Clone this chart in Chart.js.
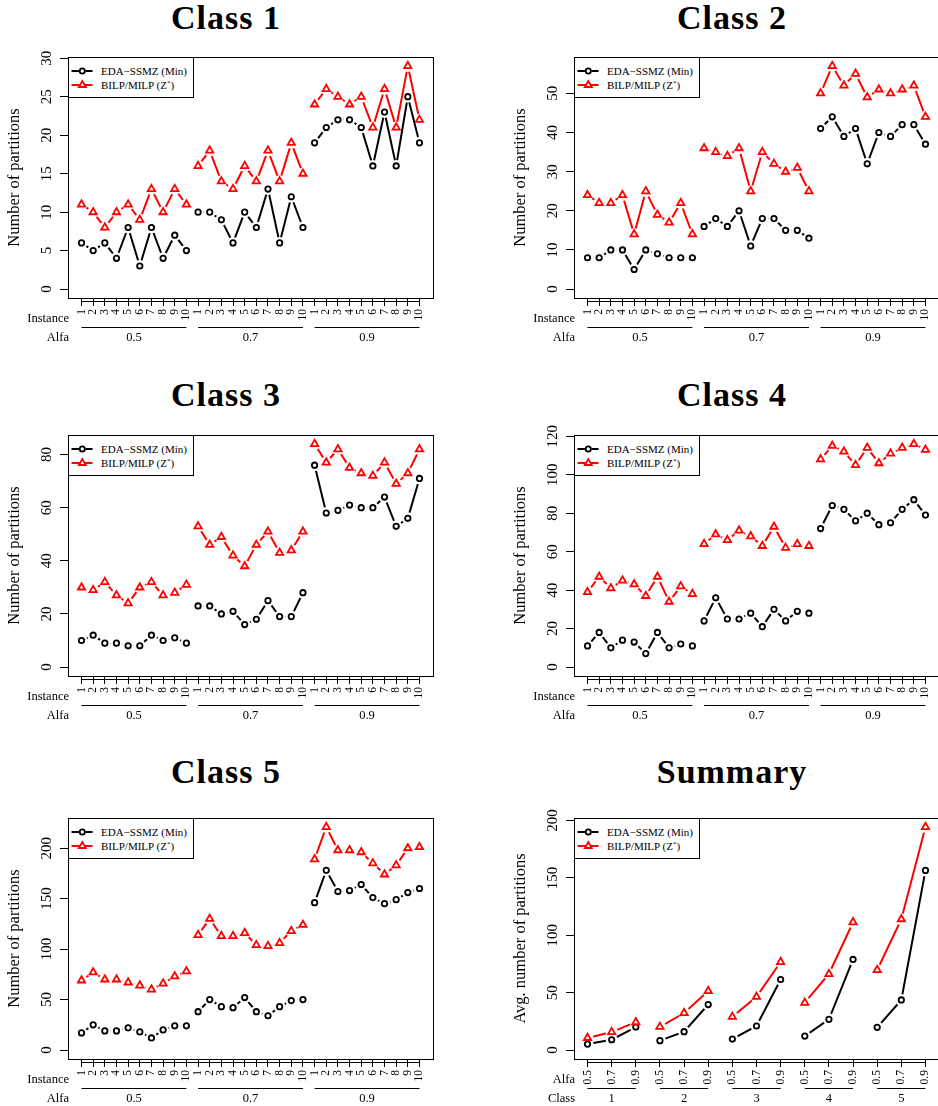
<!DOCTYPE html>
<html>
<head>
<meta charset="utf-8">
<script src="https://cdn.jsdelivr.net/npm/chart.js@4.4.1/dist/chart.umd.min.js"></script>
<style>
  html, body { margin: 0; padding: 0; background: #fff; }
  body { width: 938px; height: 1106px; position: relative; overflow: hidden;
         font-family: 'Liberation Serif', 'Times New Roman', serif; color: #000; }
  .panel { position: absolute; width: 469px; height: 360px; }
  .panel canvas { position: absolute; left: 0; top: 40px; }
  .title { position: absolute; left: 0; width: 452px; height: 40px; line-height: 40px;
           text-align: center; font-size: 34px; font-weight: bold; letter-spacing: 1px; }
  .legend { position: absolute; left: 68px; top: 57px; width: 124px; height: 39px;
            border: 1px solid #000; background: #fff; font-size: 11px; }
  .legend .row { position: absolute; left: 0; height: 14px; line-height: 14px; }
  .legend svg { position: absolute; left: 1px; top: 1px; }
  .legend span { position: absolute; left: 32px; white-space: nowrap; }
  .legend sup { font-size: 7px; vertical-align: 4px; line-height: 0; }
  .rowlab { position: absolute; right: 400px; height: 16px; line-height: 16px;
            font-size: 12.5px; text-align: right; white-space: nowrap; }
</style>
</head>
<body>
<script>
'use strict';

// ══════════════════════════════════════
// DATA
// ══════════════════════════════════════
var instanceLabels = ['1','2','3','4','5','6','7','8','9','10'];
var alfaLabels     = ['0.5','0.7','0.9'];
var classLabels    = ['1','2','3','4','5'];

// 30 values per series: alfa 0.5 (inst 1-10), 0.7 (1-10), 0.9 (1-10)
var class1Eda  = [6,5,6,4,8,3,8,4,7,5, 10,10,9,6,10,8,13,6,12,8, 19,21,22,22,21,16,23,16,25,19];
var class1Bilp = [11,10,8,10,11,9,13,10,13,11, 16,18,14,13,16,14,18,14,19,15, 24,26,25,24,25,21,26,21,29,22];

var class2Eda  = [8,8,10,10,5,10,9,8,8,8, 16,18,16,20,11,18,18,15,15,13, 41,44,39,41,32,40,39,42,42,37];
var class2Bilp = [24,22,22,24,14,25,19,17,22,14, 36,35,34,36,25,35,32,30,31,25, 50,57,52,55,49,51,50,51,52,44];

var class3Eda  = [10,12,9,9,8,8,12,10,11,9, 23,23,20,21,16,18,25,19,19,28, 76,58,59,61,60,60,64,53,56,71];
var class3Bilp = [30,29,32,27,24,30,32,27,28,31, 53,46,49,42,38,46,51,43,44,51, 84,77,82,75,73,72,77,69,73,82];

var class4Eda  = [11,18,10,14,13,7,18,10,12,11, 24,36,25,25,28,21,30,24,29,28, 72,84,82,76,80,74,75,82,87,79];
var class4Bilp = [39,47,41,45,43,37,47,34,42,38, 64,69,66,71,68,63,73,62,64,63, 108,115,112,105,114,106,111,114,116,113];

var class5Eda  = [17,25,19,19,22,18,12,20,24,24, 38,50,43,42,52,38,34,43,49,50, 146,178,157,158,164,151,145,149,156,160];
var class5Bilp = [69,77,70,70,67,64,60,66,73,78, 114,130,113,113,116,104,103,106,118,124, 189,221,198,198,196,185,174,183,200,201];

// 15 values per series: class 1..5 x alfa 0.5/0.7/0.9
var summaryEda  = [5.2,9.0,20.1, 8.2,16.0,39.7, 9.6,21.0,61.5, 12.2,26.8,79.0, 19.8,43.7,156.6];
var summaryBilp = [10.6,15.7,24.3, 20.3,32.3,51.5, 29.0,46.4,76.8, 41.3,66.3,111.4, 69.8,114.1,194.5];

var class1Ticks  = [0,5,10,15,20,25,30];
var class2Ticks  = [0,10,20,30,40,50];
var class3Ticks  = [0,20,40,60,80];
var class4Ticks  = [0,20,40,60,80,100,120];
var class5Ticks  = [0,50,100,150,200];
var summaryTicks = [0,50,100,150,200];

var seriesNames = ['EDA\u2212SSMZ (Min)', 'BILP/MILP (Z'];

// ══════════════════════════════════════
// STYLE
// ══════════════════════════════════════
var FONT = "'Liberation Serif', 'Times New Roman', serif";
var RED = '#ff0000';
var GAP = 6;          // R type="b" line gap round each point

Chart.defaults.font.family = FONT;
Chart.defaults.color = '#000';

var panels = [
  { title:'Class 1', left:0,   top:0,   titleY:18,  eda:class1Eda,  bilp:class1Bilp,  ticks:class1Ticks,  inner:instanceLabels, outer:alfaLabels, rows:['Instance','Alfa'], yTitle:'Number of partitions' },
  { title:'Class 2', left:506, top:0,   titleY:18,  eda:class2Eda,  bilp:class2Bilp,  ticks:class2Ticks,  inner:instanceLabels, outer:alfaLabels, rows:['Instance','Alfa'], yTitle:'Number of partitions' },
  { title:'Class 3', left:0,   top:378, titleY:395, eda:class3Eda,  bilp:class3Bilp,  ticks:class3Ticks,  inner:instanceLabels, outer:alfaLabels, rows:['Instance','Alfa'], yTitle:'Number of partitions' },
  { title:'Class 4', left:506, top:378, titleY:395, eda:class4Eda,  bilp:class4Bilp,  ticks:class4Ticks,  inner:instanceLabels, outer:alfaLabels, rows:['Instance','Alfa'], yTitle:'Number of partitions' },
  { title:'Class 5', left:0,   top:761, titleY:772, eda:class5Eda,  bilp:class5Bilp,  ticks:class5Ticks,  inner:instanceLabels, outer:alfaLabels, rows:['Instance','Alfa'], yTitle:'Number of partitions' },
  { title:'Summary', left:506, top:761, titleY:772, eda:summaryEda, bilp:summaryBilp, ticks:summaryTicks, inner:alfaLabels,     outer:classLabels, rows:['Alfa','Class'], yTitle:'Avg. number of partitions' }
];

// ── R-like frame, axis lines, group underlines, rotated y labels ─────────
var rStyle = {
  id: 'rStyle',
  beforeDatasetDraw: function(chart, args) {
    var ds = chart.data.datasets[args.index];
    if (!ds.gapped) return;
    var ctx = chart.ctx, a = chart.chartArea;
    ctx.save();
    ctx.beginPath();
    ctx.rect(a.left - 5, a.top - 5, a.right - a.left + 10, a.bottom - a.top + 10);
    args.meta.data.forEach(function(pt) {
      ctx.moveTo(pt.x + GAP, pt.y);
      ctx.arc(pt.x, pt.y, GAP, 0, Math.PI * 2);
    });
    ctx.clip('evenodd');
  },
  afterDatasetDraw: function(chart, args) {
    if (chart.data.datasets[args.index].gapped) chart.ctx.restore();
  },
  afterDraw: function(chart) {
    var ctx = chart.ctx, a = chart.chartArea;
    var xs = chart.scales.x, gs = chart.scales.x2, ys = chart.scales.y;
    var size = chart.options.plugins.rStyle.groupSize;
    ctx.save();
    ctx.strokeStyle = '#000';
    ctx.lineWidth = 1;
    ctx.strokeRect(Math.round(a.left) + 0.5, Math.round(a.top) + 0.5,
                   Math.round(a.right - a.left), Math.round(a.bottom - a.top));

    // x axis line from first to last tick
    var t = xs.ticks;
    var yl = Math.round(a.bottom) + 3.5;
    ctx.beginPath();
    ctx.moveTo(xs.getPixelForValue(t[0].value), yl);
    ctx.lineTo(xs.getPixelForValue(t[t.length - 1].value), yl);
    ctx.stroke();

    // underline each group
    var yg = Math.round(gs.top) + 1.5;
    for (var g = 0; g * size < t.length; g++) {
      ctx.beginPath();
      ctx.moveTo(xs.getPixelForValue(t[g * size].value), yg);
      ctx.lineTo(xs.getPixelForValue(t[g * size + size - 1].value), yg);
      ctx.stroke();
    }

    // rotated y tick labels (R default las=0)
    ctx.fillStyle = '#000';
    ctx.font = '15px ' + FONT;
    ctx.textAlign = 'center';
    ctx.textBaseline = 'middle';
    ys.ticks.forEach(function(tk) {
      ctx.save();
      ctx.translate(a.left - 21, ys.getPixelForValue(tk.value));
      ctx.rotate(-Math.PI / 2);
      ctx.fillText(String(tk.value), 0, 0);
      ctx.restore();
    });
    ctx.restore();
  }
};

function buildPanel(p) {
  var n = p.eda.length;
  var size = p.inner.length;
  var pad = 0.04 * (n - 1);
  var ymax = Math.max.apply(null, p.eda.concat(p.bilp));
  var positions = p.eda.map(function(v, i) { return i + 1; });
  var centers = p.outer.map(function(o, g) { return (positions[g * size] + positions[g * size + size - 1]) / 2; });

  var wrap = document.createElement('div');
  wrap.className = 'panel';
  wrap.style.left = p.left + 'px';
  wrap.style.top = p.top + 'px';
  document.body.appendChild(wrap);

  var title = document.createElement('div');
  title.className = 'title';
  title.style.top = (p.titleY - p.top - 20) + 'px';
  title.textContent = p.title;
  wrap.appendChild(title);

  var canvas = document.createElement('canvas');
  canvas.width = 469; canvas.height = 310;
  canvas.style.width = '469px'; canvas.style.height = '310px';
  wrap.appendChild(canvas);

  var legend = document.createElement('div');
  legend.className = 'legend';
  legend.innerHTML =
    '<div class="row" style="top:6px">' +
      '<svg width="26" height="12" viewBox="0 0 26 12"><line x1="1.5" y1="6" x2="22.5" y2="6" stroke="#000" stroke-width="2"/>' +
      '<circle cx="12.3" cy="6" r="3.4" fill="#fff"/><circle cx="12.3" cy="6" r="2.6" fill="none" stroke="#000" stroke-width="1.8"/></svg>' +
      '<span>' + seriesNames[0] + '</span></div>' +
    '<div class="row" style="top:20px">' +
      '<svg width="26" height="12" viewBox="0 0 26 12"><line x1="1.5" y1="6" x2="22.5" y2="6" stroke="' + RED + '" stroke-width="2"/>' +
      '<polygon points="12.3,2 15.8,8 8.8,8" fill="#fff" stroke="' + RED + '" stroke-width="1.8"/></svg>' +
      '<span>' + seriesNames[1] + '<sup>*</sup>)</span></div>';
  wrap.appendChild(legend);

  p.rows.forEach(function(txt, r) {
    var lab = document.createElement('div');
    lab.className = 'rowlab';
    lab.style.top = (r === 0 ? 310 : 329) + 'px';
    lab.textContent = txt;
    wrap.appendChild(lab);
  });

  function pts(arr) { return arr.map(function(v, i) { return { x: positions[i], y: v }; }); }
  function sameGroup(color) {
    return function(ctx) {
      return Math.floor(ctx.p0DataIndex / size) === Math.floor(ctx.p1DataIndex / size) ? color : 'rgba(0,0,0,0)';
    };
  }

  new Chart(canvas, {
    type: 'line',
    data: {
      datasets: [
        { data: pts(p.bilp), showLine: false, pointStyle: 'triangle', pointRadius: 4.2,
          pointBorderWidth: 1.8, pointBorderColor: RED, pointBackgroundColor: 'rgba(0,0,0,0)', order: 1 },
        { data: pts(p.bilp), gapped: true, borderColor: RED, borderWidth: 2, pointRadius: 0,
          segment: { borderColor: sameGroup(RED) }, order: 2 },
        { data: pts(p.eda), showLine: false, pointStyle: 'circle', pointRadius: 2.7,
          pointBorderWidth: 1.8, pointBorderColor: '#000', pointBackgroundColor: 'rgba(0,0,0,0)', order: 3 },
        { data: pts(p.eda), gapped: true, borderColor: '#000', borderWidth: 2, pointRadius: 0,
          segment: { borderColor: sameGroup('#000') }, order: 4 }
      ]
    },
    options: {
      responsive: false,
      animation: false,
      events: [],
      devicePixelRatio: 1,
      layout: { padding: { top: 17, right: 36, left: 0, bottom: 0 } },
      plugins: {
        legend: { display: false },
        tooltip: { enabled: false },
        rStyle: { groupSize: size }
      },
      scales: {
        x: {
          type: 'linear', position: 'bottom',
          min: 1 - pad, max: n + pad,
          afterBuildTicks: function(s) { s.ticks = positions.map(function(v) { return { value: v }; }); },
          afterFit: function(s) { s.height = 28; },
          grid: { drawOnChartArea: false, tickLength: 8, color: '#000', lineWidth: 1 },
          border: { display: false },
          ticks: {
            autoSkip: false, minRotation: 90, maxRotation: 90, padding: 3,
            font: { size: 11.5 }, color: '#000',
            callback: function(v, i) { return p.inner[i % size]; }
          }
        },
        x2: {
          type: 'linear', position: 'bottom',
          min: 1 - pad, max: n + pad,
          afterBuildTicks: function(s) { s.ticks = centers.map(function(v) { return { value: v }; }); },
          afterFit: function(s) { s.height = 24; },
          grid: { display: false, drawTicks: false },
          border: { display: false },
          ticks: {
            autoSkip: false, minRotation: 0, maxRotation: 0, padding: 4,
            font: { size: 12.5 }, color: '#000',
            callback: function(v, i) { return p.outer[i]; }
          }
        },
        y: {
          type: 'linear', position: 'left',
          min: -0.04 * ymax, max: 1.04 * ymax,
          afterBuildTicks: function(s) { s.ticks = p.ticks.map(function(v) { return { value: v }; }); },
          afterFit: function(s) { s.width = 68; },
          grid: { drawOnChartArea: false, tickLength: 8, color: '#000', lineWidth: 1 },
          border: { display: false },
          ticks: { display: false },
          title: {
            display: true, text: p.yTitle, color: '#000',
            font: { size: 16.5 }, padding: { top: 5, bottom: 0 }
          }
        }
      }
    },
    plugins: [rStyle]
  });
}

panels.forEach(buildPanel);
</script>
</body>
</html>
